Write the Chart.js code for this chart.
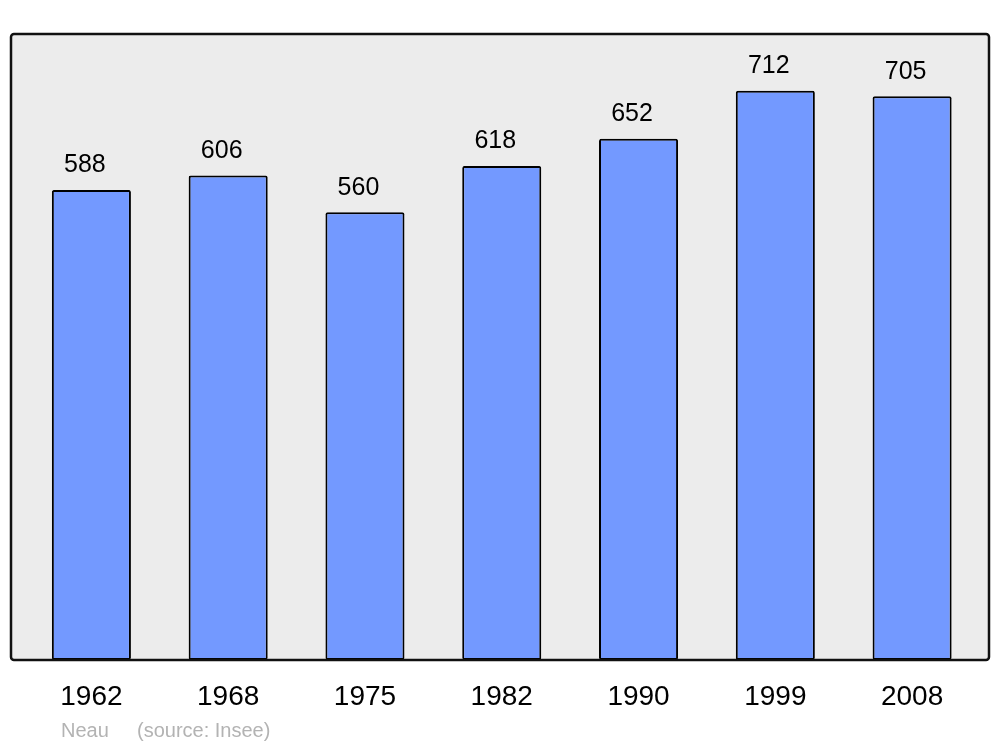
<!DOCTYPE html>
<html>
<head>
<meta charset="utf-8">
<script src="https://cdn.jsdelivr.net/npm/chart.js@4/dist/chart.umd.min.js"></script>
<style>
  html, body { margin: 0; padding: 0; background: #fff; }
  #wrap { width: 1000px; height: 747px; }
</style>
</head>
<body>
<div id="wrap"><canvas id="popChart" width="1000" height="747"></canvas></div>
<script>
'use strict';

const years = ['1962', '1968', '1975', '1982', '1990', '1999', '2008'];
const population = [588, 606, 560, 618, 652, 712, 705];
const footerAuthor = 'Neau';
const footerSource = '(source: Insee)';

const FONT = "'Liberation Sans', Arial, sans-serif";

// grey frame behind the bars, border drawn on top afterwards
const framePlugin = {
    id: 'frame',
    beforeDatasetsDraw(chart) {
        const a = chart.chartArea, ctx = chart.ctx;
        ctx.save();
        ctx.beginPath();
        ctx.roundRect(a.left - 12, a.top, a.right - a.left + 20.5, a.bottom - a.top, 3);
        ctx.fillStyle = '#ececec';
        ctx.fill();
        ctx.restore();
    },
    afterDatasetsDraw(chart) {
        const a = chart.chartArea, ctx = chart.ctx;
        ctx.save();
        ctx.beginPath();
        ctx.roundRect(a.left - 12, a.top, a.right - a.left + 20.5, a.bottom - a.top, 3);
        ctx.lineWidth = 2.5;
        ctx.strokeStyle = '#111';
        ctx.stroke();

        // value labels above each bar
        const meta = chart.getDatasetMeta(0);
        ctx.font = '25px ' + FONT;
        ctx.fillStyle = '#000';
        ctx.textAlign = 'center';
        ctx.textBaseline = 'alphabetic';
        meta.data.forEach(function(bar, i) {
            ctx.fillText(String(population[i]), bar.x - 6.5, bar.y - 17.5);
        });

        // footer
        ctx.font = '20px ' + FONT;
        ctx.fillStyle = '#b3b3b3';
        ctx.textAlign = 'left';
        ctx.fillText(footerAuthor, 61, 737);
        ctx.fillText(footerSource, 137, 737);
        ctx.restore();
    }
};

new Chart(document.getElementById('popChart').getContext('2d'), {
    type: 'bar',
    data: {
        labels: years,
        datasets: [{
            data: population,
            backgroundColor: '#7399ff',
            borderColor: '#000',
            borderWidth: 2,
            borderRadius: 2,
            borderSkipped: false,
            barPercentage: 0.578,
            categoryPercentage: 1
        }]
    },
    options: {
        responsive: false,
        animation: false,
        layout: { padding: { left: 23, right: 19.5, top: 34, bottom: 20.5 } },
        plugins: {
            legend: { display: false },
            tooltip: { enabled: false }
        },
        scales: {
            x: {
                grid: { display: false },
                border: { display: false },
                ticks: {
                    color: '#000',
                    font: { family: FONT, size: 28 },
                    padding: 12.5
                }
            },
            y: {
                display: false,
                min: 0,
                max: 783
            }
        }
    },
    plugins: [framePlugin]
});
</script>
</body>
</html>
